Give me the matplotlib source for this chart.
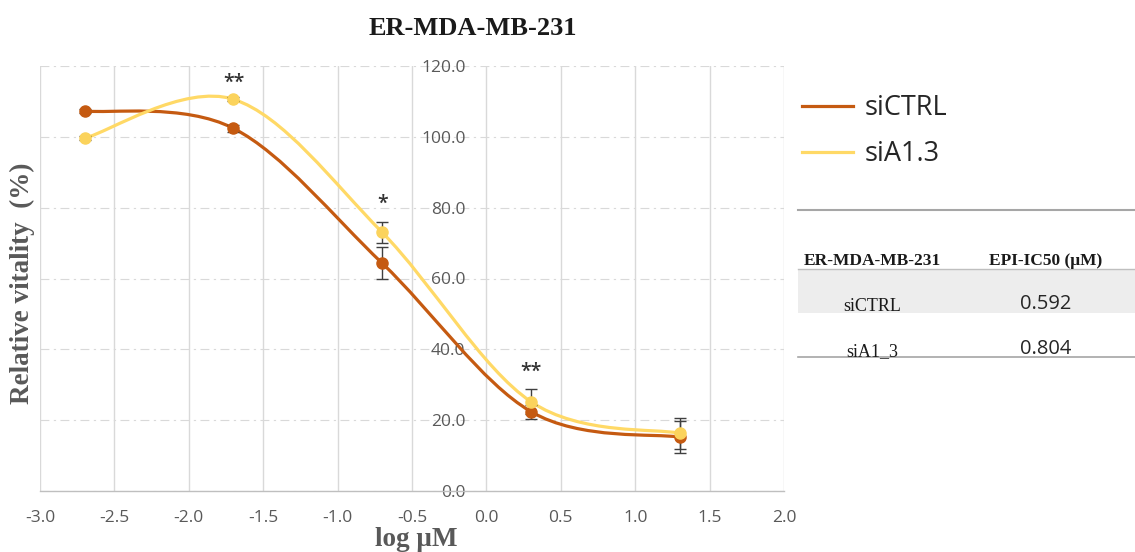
import matplotlib
matplotlib.use("Agg")
import matplotlib.pyplot as plt
import numpy as np
from matplotlib.path import Path
from matplotlib.patches import PathPatch, Rectangle
from matplotlib.lines import Line2D

plt.rcParams['axes.unicode_minus'] = False

# data
log_um = [-2.7, -1.7, -0.7, 0.3, 1.3]
sictrl = [107.3, 102.4, 64.3, 22.4, 15.2]
sictrl_err = [0.6, 0.9, 4.5, 2.0, 4.6]
sia13 = [99.6, 110.6, 73.0, 25.2, 16.3]
sia13_err = [0.5, 0.6, 3.0, 3.5, 4.3]
stars = ["", "**", "*", "**", ""]
star_y = [0, 113.8, 79.6, 32.2, 0]

table_rows = ["siCTRL", "siA1_3"]
table_ic50 = ["0.592", "0.804"]

c_ctrl = '#C55A11'
c_a13 = '#FFD966'
grid_c = '#D9D9D9'
txt_c = '#595959'
serif = 'Liberation Serif'
sans = 'Open Sans'

W, H = 1135, 552
fig = plt.figure(figsize=(W / 100, H / 100), dpi=100)
ax = fig.add_axes([40 / W, 1 - 491 / H, 744 / W, 425 / H])


def smooth_path(xs, ys):
    # excel-style smoothed line: cubic bezier through every point
    pts = np.column_stack([xs, ys])
    n = len(pts)
    verts = [pts[0]]
    codes = [Path.MOVETO]
    for i in range(n - 1):
        p0 = pts[max(i - 1, 0)]
        p1 = pts[i]
        p2 = pts[i + 1]
        p3 = pts[min(i + 2, n - 1)]
        verts += [p1 + (p2 - p0) / 6, p2 - (p3 - p1) / 6, p2]
        codes += [Path.CURVE4] * 3
    return Path(verts, codes)


for ys, err, col, mcol, lab in [(sictrl, sictrl_err, c_ctrl, c_ctrl, 'siCTRL'),
                                 (sia13, sia13_err, c_a13, '#FBD35C', 'siA1.3')]:
    ax.add_patch(PathPatch(smooth_path(log_um, ys), fill=False, edgecolor=col,
                           lw=2.3, zorder=3, capstyle='round'))
    ax.errorbar(log_um, ys, yerr=err, fmt='none', ecolor='#404040', elinewidth=1,
                capsize=4, capthick=1, zorder=4)
    ax.plot(log_um, ys, 'o', color=mcol, ms=8, zorder=5)
    ax.plot([], [], color=col, lw=2.3, label=lab)

for x, s, y in zip(log_um, stars, star_y):
    if s:
        ax.text(x, y, s, ha='center', va='baseline', fontsize=14, color='#333333',
                family=sans, weight='semibold')

ax.set_xlim(-3, 2)
ax.set_ylim(0, 120)
ax.set_xticks(np.arange(-3, 2.01, 0.5))
ax.set_yticks(np.arange(0, 121, 20))
ax.xaxis.set_major_formatter(matplotlib.ticker.FormatStrFormatter('%.1f'))
ax.yaxis.set_major_formatter(matplotlib.ticker.FormatStrFormatter('%.1f'))

ax.spines['left'].set_position(('data', 0))
ax.spines['left'].set_visible(False)
ax.spines['right'].set_visible(False)
ax.spines['top'].set_visible(False)
ax.spines['bottom'].set_color('#BFBFBF')
ax.spines['bottom'].set_linewidth(1)
ax.tick_params(axis='y', length=0, pad=15, labelsize=12.5, labelcolor=txt_c)
ax.tick_params(axis='x', length=0, pad=14, labelsize=12.5, labelcolor=txt_c)
for lbl in ax.get_xticklabels() + ax.get_yticklabels():
    lbl.set_family(sans)

ax.grid(axis='x', color=grid_c, lw=1, linestyle='-')
ax.grid(axis='y', color=grid_c, lw=0.8, linestyle=(0, (8, 4, 2, 4)))
ax.set_axisbelow(True)

leg = ax.legend(loc='upper left', bbox_to_anchor=(802 / W, 1 - 94 / H),
                bbox_transform=fig.transFigure, frameon=False, borderpad=0,
                borderaxespad=0, handlelength=1.9, handletextpad=0.42,
                labelspacing=0.68, prop={'family': sans, 'size': 19.5})
for t in leg.get_texts():
    t.set_color('#262626')

fig.text(473 / W, 1 - 35 / H, 'ER-MDA-MB-231', ha='center', va='baseline',
         family=serif, weight='bold', fontsize=19, color='#1A1A1A')
fig.text(22 / W, 1 - 283 / H, 'Relative vitality  (%)', ha='center', va='center',
         rotation=90, family=serif, weight='bold', fontsize=19.5, color=txt_c)
fig.text(416 / W, 1 - 546 / H, 'log μM', ha='center', va='baseline',
         family=serif, weight='bold', fontsize=19.5, color=txt_c)

# IC50 table on the right
x0 = 798 / W
fig.add_artist(Rectangle((x0, 1 - 313 / H), 1 - x0, 44 / H, transform=fig.transFigure,
                         facecolor='#EDEDED', edgecolor='none'))
for yy, c, lw in [(210, '#A6A6A6', 1.5), (269, '#BFBFBF', 1), (357, '#A6A6A6', 1.2)]:
    fig.add_artist(Line2D([x0, 1], [1 - yy / H] * 2, transform=fig.transFigure,
                          color=c, lw=lw))
fig.text(872 / W, 1 - 265 / H, 'ER-MDA-MB-231', ha='center', va='baseline',
         family=serif, weight='bold', fontsize=12.5, color='#1A1A1A')
fig.text(1046 / W, 1 - 265 / H, 'EPI-IC50 (μM)', ha='center', va='baseline',
         family=serif, weight='bold', fontsize=12.5, color='#1A1A1A')
for i, (name, val) in enumerate(zip(table_rows, table_ic50)):
    yb = 311 + 45 * i
    fig.text(872 / W, 1 - yb / H, name, ha='center', va='baseline',
             family=serif, fontsize=13, color='#1A1A1A')
    fig.text(1046 / W, 1 - (yb - 2) / H, val, ha='center', va='baseline',
             family=sans, fontsize=14.5, color='#262626')

fig.savefig('out.png', dpi=100)
